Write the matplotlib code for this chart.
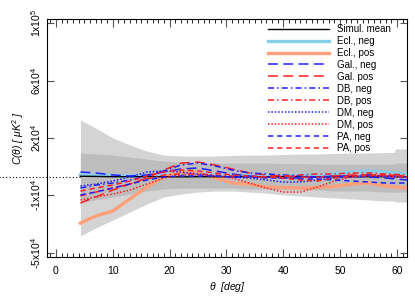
import matplotlib
matplotlib.use("Agg")
import matplotlib.pyplot as plt

plt.rcParams["font.family"] = ["Liberation Sans", "DejaVu Sans"]
plt.rcParams["mathtext.fontset"] = "custom"
plt.rcParams["mathtext.rm"] = "Liberation Sans"
plt.rcParams["mathtext.it"] = "Liberation Sans:italic"

# simulation envelopes (uK^2)
band_theta = [4.3, 7, 10, 13, 16, 19, 22, 25, 28, 31, 34, 37, 40, 43, 46, 49, 52, 55, 58, 59.6, 59.7, 61.8]
outer_hi = [39.5e3, 33.9e3, 27.0e3, 22.1e3, 17.9e3, 15.1e3, 14.4e3, 14.4e3, 14.4e3, 14.8e3, 15.1e3,
            15.1e3, 15.5e3, 15.8e3, 15.8e3, 16.2e3, 16.5e3, 16.5e3, 16.9e3, 16.9e3, 19.3e3, 19.3e3]
outer_lo = [-41.3e3, -35.7e3, -30.2e3, -24.6e3, -19.0e3, -14.1e3, -12.1e3, -10.7e3, -10.0e3, -10.0e3, -10.7e3,
            -11.4e3, -12.7e3, -13.4e3, -14.1e3, -14.8e3, -15.5e3, -16.2e3, -16.9e3, -16.9e3, -17.6e3, -17.6e3]
inner_hi = [16.5e3, 15.8e3, 15.1e3, 13.7e3, 12.3e3, 10.9e3, 10.2e3, 9.5e3, 9.5e3, 9.5e3, 9.5e3,
            9.5e3, 9.2e3, 9.2e3, 8.8e3, 8.8e3, 8.8e3, 8.8e3, 8.8e3, 8.8e3, 9.5e3, 9.5e3]
inner_lo = [-18.3e3, -16.2e3, -14.1e3, -12.1e3, -10.0e3, -8.6e3, -7.9e3, -7.9e3, -7.9e3, -7.9e3, -8.6e3,
            -8.6e3, -9.3e3, -9.3e3, -9.3e3, -10.0e3, -10.0e3, -10.0e3, -10.7e3, -10.7e3, -10.7e3, -10.7e3]

# correlation curves (uK^2)
theta = [4.3, 7, 10, 13, 16, 19, 22, 25, 28, 31, 34, 37, 40, 43, 46, 49, 52, 55, 58, 61.8]
sim_mean = [300, 200, 0, 0, 0, 0, -100, 0, 0, 0, 0, 0, 0, 0, 0, 0, 0, 0, 0, 0]
ecl_neg = [1.2e3, 1.2e3, 0.8e3, 0.5e3, 0.5e3, 1.2e3, 1.9e3, 1.9e3, 1.2e3, 1.2e3, 0.5e3, 0.5e3, 0.5e3,
           1.2e3, 1.2e3, 1.9e3, 3.3e3, 4.0e3, 3.3e3, 1.9e3]
ecl_pos = [-32.3e3, -27.4e3, -23.9e3, -15.5e3, -7.2e3, -0.2e3, 3.3e3, 2.6e3, -0.9e3, -4.4e3, -5.1e3,
           -7.2e3, -7.5e3, -7.9e3, -7.5e3, -6.8e3, -5.1e3, -4.4e3, -6.5e3, -7.9e3]
gal_neg = [3.3e3, 2.6e3, 1.2e3, 0.5e3, 1.2e3, 3.3e3, 5.4e3, 6.1e3, 4.0e3, 1.9e3, 0.5e3, -0.2e3, -0.9e3,
           -0.9e3, -0.2e3, 0.5e3, 0.5e3, -0.2e3, -0.9e3, -2.3e3]
gal_pos = [-18.3e3, -14.1e3, -9.3e3, -5.1e3, -0.9e3, 4.7e3, 9.5e3, 10.2e3, 8.2e3, 5.4e3, 2.6e3, 1.2e3,
           0.5e3, -0.2e3, -0.2e3, 0.5e3, 1.2e3, 1.2e3, 0.5e3, -0.2e3]
db_neg = [-7.9e3, -5.8e3, -4.4e3, -2.3e3, 0.5e3, 4.0e3, 8.2e3, 9.5e3, 7.5e3, 4.7e3, 2.6e3, 1.9e3, 1.2e3,
          0.5e3, -0.2e3, -0.2e3, 0.5e3, 1.2e3, 0.5e3, -0.2e3]
db_pos = [-13.4e3, -10.7e3, -7.9e3, -5.1e3, -1.6e3, 1.2e3, 1.9e3, 1.9e3, 1.2e3, 0.5e3, -0.2e3, -0.2e3,
          0.5e3, 1.2e3, 1.9e3, 1.9e3, 2.6e3, 2.6e3, 1.9e3, 1.2e3]
dm_neg = [-6.5e3, -5.1e3, -3.0e3, -0.2e3, 3.3e3, 4.0e3, 3.3e3, 1.9e3, 0.5e3, -0.2e3, -0.9e3, -2.3e3,
          -3.7e3, -3.7e3, -2.3e3, -0.9e3, -0.2e3, 0.5e3, 0.5e3, -0.2e3]
dm_pos = [-16.2e3, -14.1e3, -12.1e3, -9.3e3, -5.1e3, -0.9e3, 1.2e3, 1.2e3, 0.5e3, -0.9e3, -4.4e3, -7.9e3,
          -10.7e3, -10.7e3, -7.2e3, -3.0e3, -0.2e3, 0.5e3, 0.5e3, -0.2e3]
pa_neg = [-12.7e3, -10.7e3, -7.9e3, -5.1e3, -2.3e3, -0.2e3, 0.5e3, 0.5e3, 0.5e3, -0.2e3, -0.2e3, -0.9e3,
          -0.9e3, -1.6e3, -1.6e3, -2.3e3, -3.0e3, -3.7e3, -4.4e3, -4.4e3]
pa_pos = [-10.0e3, -7.9e3, -5.8e3, -3.0e3, 0.5e3, 3.3e3, 4.7e3, 4.0e3, 2.6e3, 1.2e3, 0.5e3, -0.2e3,
          -0.9e3, -2.3e3, -3.0e3, -0.9e3, 0.5e3, 1.2e3, 1.2e3, 0.5e3]

ytick_pos = [107e3, 67e3, 27e3, -13e3, -53e3]
ytick_labels = [r"1x10$^5$", r"6x10$^4$", r"2x10$^4$", r"-1x10$^4$", r"-5x10$^4$"]
xticks = [0, 10, 20, 30, 40, 50, 60]

BLUE = "#2020ff"
RED = "#ff2020"

fig = plt.figure(figsize=(4.15, 2.97), dpi=100)
ax = fig.add_axes([0.113, 0.133, 0.868, 0.803])

# zero line, runs out to the figure edge
ax.plot([-10, 61.8], [0, 0], color="black", lw=0.8, ls=(0, (1, 2)), clip_on=False, zorder=1)

ax.fill_between(band_theta, outer_lo, outer_hi, color="#d4d4d4", lw=0, zorder=2)
ax.fill_between(band_theta, inner_lo, inner_hi, color="#bdbdbd", lw=0, zorder=2)

ax.plot(theta, sim_mean, color="black", lw=1.0, label="Simul. mean", zorder=4)
ax.plot(theta, ecl_neg, color="#87ceeb", lw=2.4, label="Ecl., neg", zorder=3)
ax.plot(theta, ecl_pos, color="#ffa07a", lw=2.4, label="Ecl., pos", zorder=3)
ax.plot(theta, gal_neg, color=BLUE, lw=1.1, dashes=(6.5, 3.5), label="Gal., neg", zorder=5)
ax.plot(theta, gal_pos, color=RED, lw=1.1, dashes=(6.5, 3.5), label="Gal. pos", zorder=5)
ax.plot(theta, db_neg, color=BLUE, lw=1.1, dashes=(4, 2, 1, 2), label="DB, neg", zorder=5)
ax.plot(theta, db_pos, color=RED, lw=1.1, dashes=(4, 2, 1, 2), label="DB, pos", zorder=5)
ax.plot(theta, dm_neg, color=BLUE, lw=1.1, dashes=(1, 1.2), label="DM, neg", zorder=5)
ax.plot(theta, dm_pos, color=RED, lw=1.1, dashes=(1, 1.2), label="DM, pos", zorder=5)
ax.plot(theta, pa_neg, color=BLUE, lw=1.1, dashes=(3.5, 2.5), label="PA, neg", zorder=5)
ax.plot(theta, pa_pos, color=RED, lw=1.1, dashes=(3.5, 2.5), label="PA, pos", zorder=5)

ax.set_xlim(-1.6, 61.8)
ax.set_ylim(-56.3e3, 109.9e3)
ax.set_xticks(xticks)
ax.set_xticks(range(-1, 62), minor=True)
ax.set_yticks(ytick_pos)
ax.set_yticklabels(ytick_labels, rotation=90, va="center")
ax.tick_params(axis="both", which="major", direction="in", top=True, right=True,
               labelsize=7.5, width=0.8, color="#555555")
ax.tick_params(axis="x", which="major", length=6, pad=6)
ax.tick_params(axis="y", which="major", length=5, pad=3)
ax.tick_params(axis="x", which="minor", direction="in", top=True, length=3, width=0.6)
for sp in ax.spines.values():
    sp.set_linewidth(0.8)

ax.set_xlabel(r"$\theta$  [deg]", fontsize=7.5, style="italic", labelpad=3)
ax.set_ylabel(r"C($\theta$) [ $\mu$K$^2$ ]", fontsize=7.5, style="italic", labelpad=2)

ax.legend(loc="upper left", bbox_to_anchor=(0.614, 0.979), frameon=False, fontsize=7,
          handlelength=6.3, handletextpad=0.8, labelspacing=0.2, borderpad=0, borderaxespad=0)

fig.savefig("out.png", dpi=100)
